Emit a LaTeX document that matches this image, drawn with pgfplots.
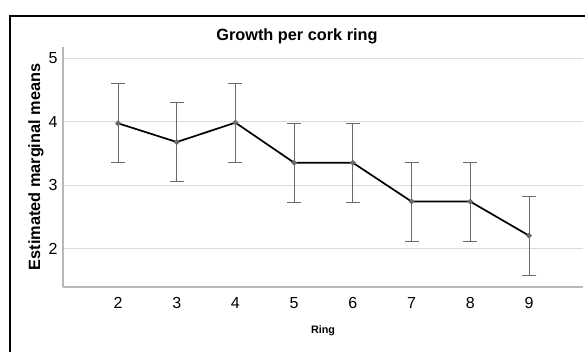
\documentclass[border=0pt]{standalone}
\usepackage{pgfplots}
\pgfplotsset{compat=1.18}
\usepackage{fontspec}
\setmainfont{Liberation Sans}
\definecolor{gridc}{HTML}{DCDCDC}
\definecolor{axc}{HTML}{B8B8B8}
\definecolor{errc}{HTML}{6A6A6A}
\begin{document}
\begin{tikzpicture}[x=1pt,y=1pt]
\useasboundingbox (0,0) rectangle (585,351);
\draw[black, line width=1.8pt] (10,-5) -- (10,335) -- (590,335);
\node[font=\fontsize{16.3}{18}\selectfont\bfseries] at (297,315) {Growth per cork ring};
\begin{axis}[
  at={(63pt,64pt)}, anchor=south west,
  width=520pt, height=240pt, scale only axis,
  xmin=1.063, xmax=9.92, ymin=1.403, ymax=5.173,
  xtick={2,3,4,5,6,7,8,9}, ytick={2,3,4,5},
  axis x line*=bottom, axis y line*=left,
  axis line style={axc, line width=1.2pt},
  x axis line style={-}, y axis line style={-},
  major tick length=0pt,
  ymajorgrids, grid style={gridc, line width=1pt},
  tick label style={font=\fontsize{16}{18}\selectfont},
  /pgf/number format/assume math mode=true,
  xticklabel style={yshift=-7pt},
  yticklabel style={xshift=-2pt},
  xlabel={Ring}, xlabel style={font=\fontsize{10.8}{12}\selectfont\bfseries, yshift=-10pt},
  ylabel={Estimated marginal means}, ylabel style={font=\fontsize{16.3}{18}\selectfont\bfseries, yshift=-2pt},
  clip=false,
]
\addplot[errc, line width=1pt, mark=none, draw=none,
  error bars/.cd, y dir=both, y explicit,
  error bar style={errc, line width=1pt},
  error mark options={rotate=90, mark size=7pt, errc, line width=1pt}]
  coordinates {
  (2,3.975) +- (0,0.62)
  (3,3.68) +- (0,0.62)
  (4,3.985) +- (0,0.62)
  (5,3.355) +- (0,0.62)
  (6,3.355) +- (0,0.62)
  (7,2.745) +- (0,0.62)
  (8,2.745) +- (0,0.62)
  (9,2.21) +- (0,0.62)
  };
\addplot[black, line width=1.7pt, mark=*, mark size=1.8pt, mark options={fill=errc, draw=errc}]
  coordinates {(2,3.975) (3,3.68) (4,3.985) (5,3.355) (6,3.355) (7,2.745) (8,2.745) (9,2.21)};
\end{axis}
\end{tikzpicture}
\end{document}
